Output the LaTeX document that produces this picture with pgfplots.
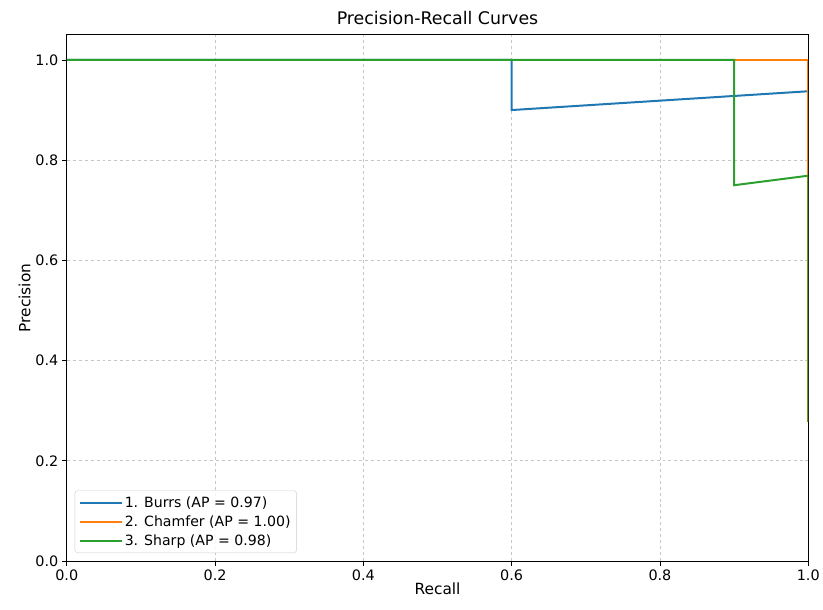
\documentclass[border=0pt]{standalone}
\usepackage{pgfplots}
\pgfplotsset{compat=1.18}
\usepackage{fontspec}
\setmainfont{DejaVu Sans}
\definecolor{tabblue}{HTML}{1F77B4}
\definecolor{taborange}{HTML}{FF7F0E}
\definecolor{tabgreen}{HTML}{2CA02C}
\begin{document}
\begin{tikzpicture}
\begin{axis}[
  at={(0,0)}, anchor=south west,
  scale only axis, width=744bp, height=528bp,
  xmin=0, xmax=1, ymin=0, ymax=1.05,
  xtick={0,0.2,0.4,0.6,0.8,1.0},
  ytick={0,0.2,0.4,0.6,0.8,1.0},
  xticklabel style={/pgf/number format/fixed,/pgf/number format/fixed zerofill,/pgf/number format/precision=1},
  yticklabel style={/pgf/number format/fixed,/pgf/number format/fixed zerofill,/pgf/number format/precision=1},
  /pgf/number format/assume math mode=true,
  tick label style={font=\fontsize{14.5}{16}\selectfont},
  tick align=outside, tick pos=left,
  major tick length=5bp,
  every tick/.style={black, line width=0.8bp},
  axis line style={line width=1bp},
  grid=major,
  major grid style={dashed, gray!45, line width=0.8bp},
  title={Precision-Recall Curves},
  title style={font=\fontsize{17.5}{20}\selectfont, yshift=1bp},
  xlabel={Recall}, ylabel={Precision},
  label style={font=\fontsize{15.5}{18}\selectfont},
  xlabel style={yshift=4bp},
  ylabel style={yshift=-2bp},
  legend style={at={(8bp,8bp)}, anchor=south west, draw=gray!40, rounded corners=3bp,
    fill=white, fill opacity=0.85, text opacity=1,
    font=\fontsize{14.2}{17}\selectfont, row sep=3bp, inner sep=4bp},
  legend cell align=left,
  legend image code/.code={\path (0bp,0bp) -- (42bp,0bp); \draw[#1, line width=2bp] (6bp,0bp) -- (34bp,0bp);},
]
\addplot[tabblue, line width=2bp] coordinates {(0,1) (0.6,1) (0.6,0.9) (1.0,0.9375) (1.0,0.278)};
\addlegendentry{1. Burrs (AP = 0.97)}
\addplot[taborange, line width=2bp] coordinates {(0,1) (1.0,1) (1.0,0.278)};
\addlegendentry{2. Chamfer (AP = 1.00)}
\addplot[tabgreen, line width=2bp] coordinates {(0,1) (0.9,1) (0.9,0.75) (1.0,0.769) (1.0,0.278)};
\addlegendentry{3. Sharp (AP = 0.98)}
\end{axis}
\path (-67bp,-49bp) rectangle (756bp,563bp);
\end{tikzpicture}
\end{document}
